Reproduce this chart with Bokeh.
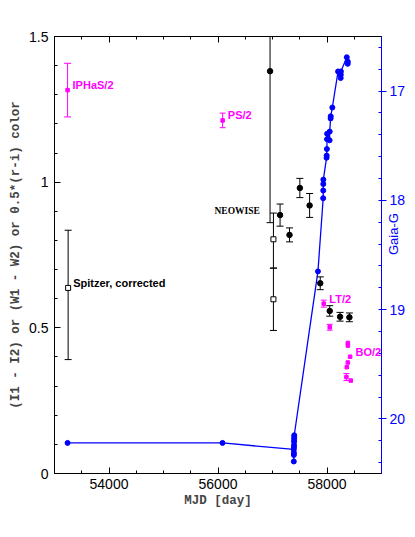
import numpy as np
from bokeh.plotting import figure
from bokeh.models import (LinearAxis, Range1d, SingleIntervalTicker, Label,
                          CustomJSTickFormatter)
from bokeh.embed import file_html
from bokeh.resources import INLINE

# ---------------- data ----------------
iphas_mjd = [53240]
iphas_val = [1.316]
iphas_err = [0.092]

ps_mjd = [56085]
ps_val = [1.212]
ps_err = [0.025]

lt_mjd = [57940, 58050]
lt_val = [0.583, 0.502]
lt_err = [0.012, 0.010]

bo_mjd = [58382, 58384, 58424, 58382, 58363, 58356, 58437]
bo_val = [0.448, 0.439, 0.401, 0.381, 0.365, 0.331, 0.319]
bo_err = [0.0, 0.0, 0.0, 0.0, 0.0, 0.012, 0.0]

spitzer_mjd = [53250, 57017, 57017]
spitzer_val = [0.637, 0.804, 0.598]
spitzer_lo = [0.391, 0.705, 0.491]
spitzer_hi = [0.835, 0.894, 0.705]

neowise_mjd = [56955, 57139, 57312, 57502, 57681, 57876, 58050, 58240, 58411]
neowise_val = [1.381, 0.887, 0.819, 0.980, 0.920, 0.653, 0.558, 0.538, 0.536]
neowise_err = [0.52, 0.038, 0.024, 0.033, 0.041, 0.022, 0.018, 0.015, 0.015]

gaia_mjd = [53240, 56083, 57390, 57391, 57392, 57393, 57394, 57395, 57396, 57397,
            57398, 57399, 57834, 57930, 57931, 57932, 57933, 57992, 57994, 57998,
            58000, 58002, 58048, 58050, 58066, 58068, 58098, 58203, 58251, 58253,
            58255, 58363, 58380, 58382]
gaia_g = [20.22, 20.22, 20.28, 20.39, 20.33, 20.31, 20.26, 20.24, 20.21, 20.19,
          20.17, 20.15, 18.65, 17.98, 17.91, 17.85, 17.81, 17.61, 17.59, 17.53,
          17.44, 17.39, 17.45, 17.37, 17.25, 17.23, 17.15, 16.82, 16.88, 16.85,
          16.82, 16.69, 16.75, 16.73]

MAG = "#ff00ff"
BLUE = "#0000ff"

W, H = 412, 530
p = figure(width=W, height=H, output_backend="svg", toolbar_location=None,
           x_range=Range1d(53000, 59000), y_range=Range1d(0, 1.5),
           min_border_left=54, min_border_right=W - 381, min_border_top=36,
           min_border_bottom=H - 473)
p.grid.visible = False
p.outline_line_color = "black"
p.background_fill_color = "white"
p.border_fill_color = "white"

p.extra_y_ranges = {"gaia": Range1d(20.5, 16.5)}


def style_axis(ax, color="black"):
    ax.axis_line_color = color
    ax.major_tick_line_color = color
    ax.minor_tick_line_color = color
    ax.major_label_text_color = color
    ax.major_label_text_font = "Liberation Sans"
    ax.major_label_text_font_size = "14px"
    ax.major_tick_in = 6
    ax.major_tick_out = 0
    ax.minor_tick_in = 3
    ax.minor_tick_out = 0


xax = p.xaxis[0]
xax.ticker = SingleIntervalTicker(interval=2000, num_minor_ticks=4)
style_axis(xax)
xax.major_label_standoff = 5
xax.axis_label = "MJD [day]"
xax.axis_label_text_font = "Liberation Mono"
xax.axis_label_text_font_style = "bold"
xax.axis_label_text_font_size = "12.5px"
xax.axis_label_standoff = 2

yax = p.yaxis[0]
yax.ticker = SingleIntervalTicker(interval=0.5, num_minor_ticks=5)
yax.formatter = CustomJSTickFormatter(code="return String(Math.round(tick*10)/10);")
style_axis(yax)
yax.major_label_standoff = 6
yax.axis_label = "(I1 - I2) or (W1 - W2) or 0.5*(r-i) color"
yax.axis_label_text_font = "Liberation Mono"
yax.axis_label_text_font_style = "bold"
yax.axis_label_text_font_size = "12.5px"
yax.axis_label_standoff = 3

top = LinearAxis(ticker=SingleIntervalTicker(interval=2000, num_minor_ticks=4),
                 formatter=CustomJSTickFormatter(code="return '';"))
style_axis(top)
top.major_label_standoff = 0
p.add_layout(top, "above")

right = LinearAxis(y_range_name="gaia",
                   ticker=SingleIntervalTicker(interval=1, num_minor_ticks=5))
style_axis(right, BLUE)
right.major_tick_in = 0
right.major_tick_out = 5
right.minor_tick_in = 3
right.minor_tick_out = 0
right.major_label_standoff = 3
right.major_label_text_font_size = "14px"
right.axis_label = "Gaia-G"
right.axis_label_text_color = BLUE
right.axis_label_text_font = "Liberation Sans"
right.axis_label_text_font_style = "normal"
right.axis_label_text_font_size = "13px"
right.axis_label_orientation = np.pi / 2
right.axis_label_standoff = -15
p.add_layout(right, "right")


def errbars(x, lo, hi, color, cap=7, lw=1):
    p.segment(x0=x, y0=lo, x1=x, y1=hi, line_color=color, line_width=lw)
    p.scatter(x=list(x) + list(x), y=list(lo) + list(hi), marker="dash",
              size=cap, line_color=color, line_width=lw)


# Gaia line (behind)
p.line(gaia_mjd, gaia_g, y_range_name="gaia", line_color=BLUE, line_width=1.3)
p.scatter(gaia_mjd, gaia_g, y_range_name="gaia", marker="circle", size=5,
          fill_color=BLUE, line_color=BLUE)

# magenta series
for xs, vs, es, cap in [(iphas_mjd, iphas_val, iphas_err, 7),
                        (ps_mjd, ps_val, ps_err, 6),
                        (lt_mjd, lt_val, lt_err, 6)]:
    errbars(xs, [v - e for v, e in zip(vs, es)], [v + e for v, e in zip(vs, es)], MAG, cap)
    p.scatter(xs, vs, marker="square", size=3.5, fill_color=MAG, line_color=MAG)

bo_ex = [m for m, e in zip(bo_mjd, bo_err) if e > 0]
bo_elo = [v - e for v, e in zip(bo_val, bo_err) if e > 0]
bo_ehi = [v + e for v, e in zip(bo_val, bo_err) if e > 0]
errbars(bo_ex, bo_elo, bo_ehi, MAG, 6)
p.scatter(bo_mjd, bo_val, marker="square", size=3.5, fill_color=MAG, line_color=MAG)

# Spitzer open squares
errbars(spitzer_mjd, spitzer_lo, spitzer_hi, "black", 7)
p.scatter(spitzer_mjd, spitzer_val, marker="square", size=5, fill_color="white",
          line_color="black", line_width=1)

# NEOWISE filled circles
errbars(neowise_mjd, [v - e for v, e in zip(neowise_val, neowise_err)],
        [v + e for v, e in zip(neowise_val, neowise_err)], "black", 7)
p.scatter(neowise_mjd, neowise_val, marker="circle", size=5.5, fill_color="black",
          line_color="black")


# annotations
def lab(x, y, t, color, font="Liberation Sans", size="11px"):
    p.add_layout(Label(x=x, y=y, text=t, text_color=color, text_font=font,
                       text_font_style="bold", text_font_size=size,
                       text_baseline="middle"))


lab(53331, 1.333, "IPHaS/2", MAG)
lab(56181, 1.230, "PS/2", MAG)
lab(55935, 0.901, "NEOWISE", "black", font="Liberation Serif", size="9.5px")
lab(53342, 0.654, "Spitzer, corrected", "black", size="11px")
lab(58042, 0.598, "LT/2", MAG)
lab(58522, 0.417, "BO/2", MAG)

open("out.html", "w").write(file_html(p, INLINE))
